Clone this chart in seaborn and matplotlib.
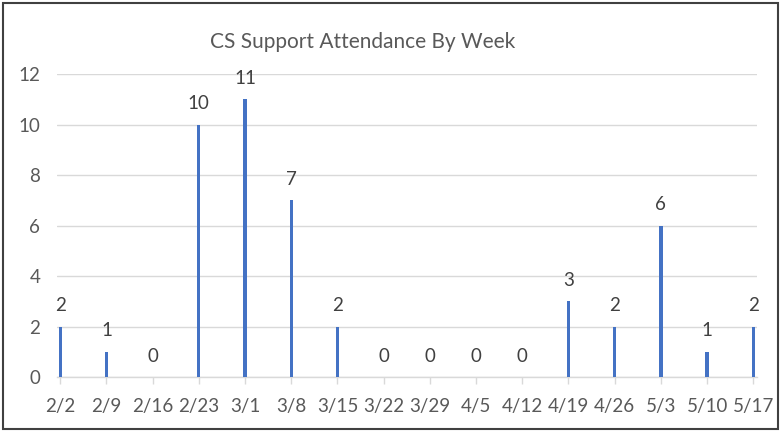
import matplotlib
matplotlib.use("Agg")
import matplotlib.pyplot as plt
import seaborn as sns
from matplotlib.patches import Rectangle

weeks = ["2/2", "2/9", "2/16", "2/23", "3/1", "3/8", "3/15", "3/22", "3/29",
         "4/5", "4/12", "4/19", "4/26", "5/3", "5/10", "5/17"]
attendance = [2, 1, 0, 10, 11, 7, 2, 0, 0, 0, 0, 3, 2, 6, 1, 2]
title = "CS Support Attendance By Week"

sns.set_theme(style="white")
plt.rcParams['font.family'] = ['Lato', 'DejaVu Sans']
text_color = "#595959"
grid_color = "#d9d9d9"
bar_color = "#4472C4"

fig = plt.figure(figsize=(7.83, 4.32), dpi=100)
ax = fig.add_axes([57/783, 1-377/432, 700/783, 303/432])

sns.barplot(x=weeks, y=attendance, color=bar_color, width=0.07,
            saturation=1, linewidth=0, ax=ax, zorder=3)

ax.set_ylim(0, 12)
ax.set_xlim(-0.07, 15.08)
ax.set_yticks(range(0, 13, 2))
ax.yaxis.grid(True, color=grid_color, linewidth=1, zorder=0)
ax.set_axisbelow(True)
for s in ["top", "right", "left"]:
    ax.spines[s].set_visible(False)
ax.spines["bottom"].set_color(grid_color)
ax.spines["bottom"].set_linewidth(1)
ax.tick_params(axis="x", length=5, color=grid_color, width=1, pad=10,
               labelsize=13.5, labelcolor=text_color, direction="out", bottom=True)
ax.tick_params(axis="y", length=0, pad=12, labelsize=13.5, labelcolor=text_color)
ax.set_xlabel("")
ax.set_ylabel("")

for i, v in enumerate(attendance):
    ax.annotate(str(v), (i, v), xytext=(0, 9), textcoords="offset points",
                ha="center", va="bottom", fontsize=13.5, color="#404040")

fig.text(363/783, 1-42/432, title, ha="center", va="center",
         fontsize=15, color=text_color)

fig.patches.append(Rectangle((3/783, 3/432), 775/783, 426/432,
                             transform=fig.transFigure, fill=False,
                             edgecolor="#404040", linewidth=1.5))

fig.savefig("out.png", dpi=100)
